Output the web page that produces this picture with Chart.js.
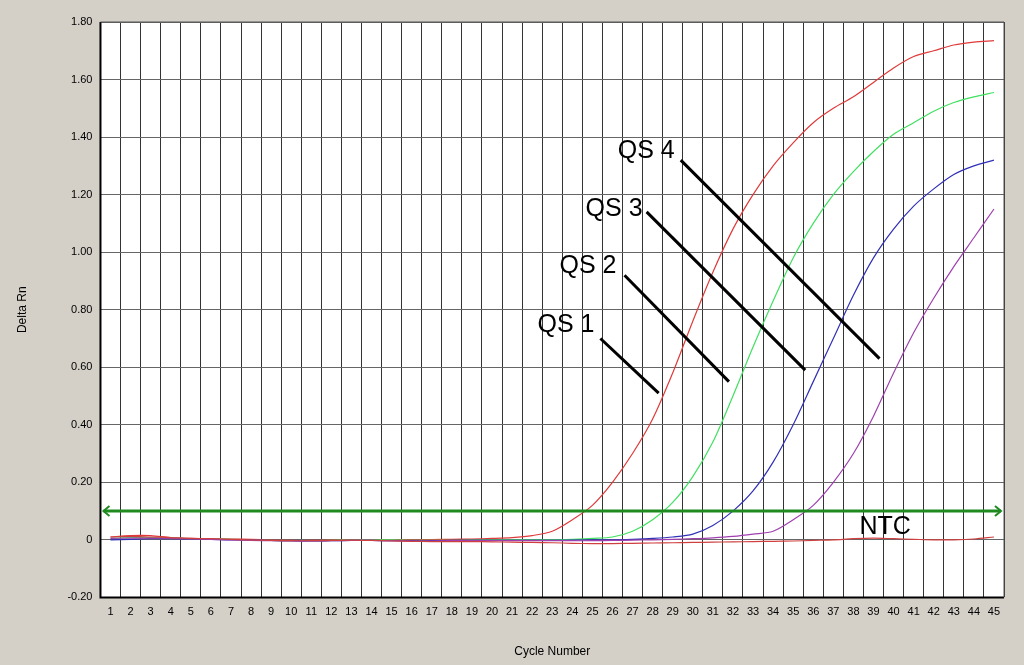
<!DOCTYPE html>
<html>
<head>
<meta charset="utf-8">
<script src="https://cdn.jsdelivr.net/npm/chart.js@4"></script>
<style>
html,body{margin:0;padding:0;background:#d4d0c8;}
#wrap{width:1024px;height:665px;}
</style>
</head>
<body>
<div id="wrap"><canvas id="pcr"></canvas></div>
<script>
const cycles = Array.from({length: 45}, (_, i) => i + 1);

const qs4 = [0.01,0.015,0.015,0.008,0.005,0.004,0.003,0.002,0,-0.002,-0.002,-0.001,0,0,0,0,0.001,0.002,0.003,0.005,0.008,0.015,0.03,0.07,0.12,0.2,0.3,0.42,0.58,0.76,0.93,1.08,1.2,1.3,1.38,1.45,1.5,1.54,1.59,1.64,1.68,1.7,1.72,1.73,1.735];
const qs3 = [0.005,0.008,0.008,0.006,0.004,0.003,0.002,0,-0.002,-0.003,-0.003,-0.002,0,0,0,-0.002,-0.002,-0.002,-0.001,0,0,0,0,0.002,0.005,0.01,0.03,0.07,0.13,0.22,0.34,0.5,0.67,0.83,0.98,1.1,1.2,1.28,1.35,1.41,1.45,1.49,1.52,1.54,1.555];
const qs2 = [0,0.002,0.004,0.004,0.003,0.002,0,0,-0.002,-0.003,-0.004,-0.003,-0.002,-0.002,-0.003,-0.003,-0.003,-0.002,-0.002,-0.002,-0.002,-0.002,-0.002,-0.001,0,0,0.002,0.005,0.01,0.02,0.05,0.1,0.17,0.27,0.4,0.55,0.7,0.85,0.98,1.08,1.16,1.22,1.27,1.3,1.32];
const qs1 = [0.005,0.006,0.006,0.005,0.003,0.002,0,-0.002,-0.003,-0.004,-0.004,-0.003,-0.002,-0.002,-0.003,-0.004,-0.004,-0.003,-0.003,-0.003,-0.003,-0.003,-0.003,-0.003,-0.003,-0.002,-0.001,0,0.002,0.004,0.007,0.012,0.02,0.03,0.07,0.12,0.2,0.3,0.43,0.58,0.72,0.84,0.95,1.05,1.15];
const ntc = [0.01,0.012,0.01,0.008,0.005,0.004,0.002,0,-0.002,-0.003,-0.003,-0.002,-0.001,-0.002,-0.004,-0.005,-0.006,-0.006,-0.006,-0.007,-0.008,-0.009,-0.01,-0.012,-0.013,-0.013,-0.012,-0.011,-0.01,-0.009,-0.008,-0.007,-0.006,-0.005,-0.004,-0.002,0,0.004,0.006,0.004,0.002,0,0,0.003,0.01];
const threshold = 0.1;

// label text, text anchor (cycle, value), pointer start and end
const labels = [
  {text: 'QS 1', at: [25.1, 0.745], align: 'right', from: [25.4, 0.70], to: [28.3, 0.51]},
  {text: 'QS 2', at: [26.2, 0.95], align: 'right', from: [26.6, 0.92], to: [31.8, 0.55]},
  {text: 'QS 3', at: [27.5, 1.15], align: 'right', from: [27.7, 1.14], to: [35.6, 0.59]},
  {text: 'QS 4', at: [29.1, 1.35], align: 'right', from: [29.4, 1.32], to: [39.3, 0.63]},
  {text: 'NTC', at: [38.3, 0.045], align: 'left'}
];

const plotBg = {
  id: 'plotBg',
  beforeDraw(chart) {
    const a = chart.chartArea, c = chart.ctx;
    c.save(); c.fillStyle = '#fff'; c.fillRect(a.left, a.top, a.right - a.left, a.bottom - a.top); c.restore();
  },
  afterDatasetsDraw(chart) {
    const c = chart.ctx, x = chart.scales.x, y = chart.scales.y, a = chart.chartArea;
    c.save();
    // threshold line with arrows
    const ty = y.getPixelForValue(threshold);
    c.strokeStyle = '#1f8a1f'; c.lineWidth = 3;
    c.beginPath(); c.moveTo(a.left + 3, ty); c.lineTo(a.right - 3, ty); c.stroke();
    c.lineWidth = 2;
    c.beginPath(); c.moveTo(a.left + 9, ty - 5); c.lineTo(a.left + 3, ty); c.lineTo(a.left + 9, ty + 5); c.stroke();
    c.beginPath(); c.moveTo(a.right - 9, ty - 5); c.lineTo(a.right - 3, ty); c.lineTo(a.right - 9, ty + 5); c.stroke();
    // labels
    c.fillStyle = '#000'; c.strokeStyle = '#000'; c.lineWidth = 3;
    c.font = '25px "Liberation Sans", Arial, sans-serif';
    c.textBaseline = 'middle';
    labels.forEach(l => {
      c.textAlign = l.align;
      c.fillText(l.text, x.getPixelForValue(l.at[0]), y.getPixelForValue(l.at[1]));
      if (l.from) {
        c.beginPath();
        c.moveTo(x.getPixelForValue(l.from[0]), y.getPixelForValue(l.from[1]));
        c.lineTo(x.getPixelForValue(l.to[0]), y.getPixelForValue(l.to[1]));
        c.stroke();
      }
    });
    // border
    c.lineWidth = 2; c.strokeStyle = '#000';
    c.beginPath(); c.moveTo(a.left, a.top); c.lineTo(a.left, a.bottom); c.lineTo(a.right, a.bottom); c.stroke();
    c.lineWidth = 1; c.strokeStyle = '#555';
    c.beginPath(); c.moveTo(a.left, a.top); c.lineTo(a.right, a.top); c.lineTo(a.right, a.bottom); c.stroke();
    c.restore();
  }
};

function series(vals, color) {
  return {data: vals.map((v, i) => ({x: cycles[i], y: v})), borderColor: color, borderWidth: 1.2, pointRadius: 0, tension: 0.3, fill: false};
}

new Chart(document.getElementById('pcr'), {
  type: 'line',
  data: {
    datasets: [
      series(ntc, '#d04040'),
      series(qs1, '#a040b0'),
      series(qs2, '#3030b8'),
      series(qs3, '#40e060'),
      series(qs4, '#e03a3a')
    ]
  },
  options: {
    responsive: true,
    maintainAspectRatio: false,
    animation: false,
    layout: {padding: {top: 22, right: 20, left: 11, bottom: 0}},
    plugins: {legend: {display: false}, tooltip: {enabled: false}},
    scales: {
      x: {
        type: 'linear', min: 0.5, max: 45.5,
        afterBuildTicks(s) {
          const t = [];
          for (let v = 0.5; v <= 45.5; v += 0.5) t.push({value: v});
          s.ticks = t;
        },
        ticks: {
          autoSkip: false, maxRotation: 0, color: '#000', padding: 8,
          font: {size: 11, family: '"Liberation Sans", Arial, sans-serif'},
          callback: v => Number.isInteger(v) ? String(v) : ''
        },
        grid: {
          drawTicks: false,
          color: c => (c.tick && !Number.isInteger(c.tick.value)) ? '#333' : 'rgba(0,0,0,0)'
        },
        border: {display: false},
        title: {display: true, text: 'Cycle Number', color: '#000', padding: {top: 18, bottom: 6}, font: {size: 12, family: '"Liberation Sans", Arial, sans-serif'}}
      },
      y: {
        min: -0.2, max: 1.8,
        ticks: {
          stepSize: 0.2, color: '#000', padding: 8,
          font: {size: 11, family: '"Liberation Sans", Arial, sans-serif'},
          callback: v => Math.abs(v) < 1e-9 ? '0' : v.toFixed(2)
        },
        grid: {drawTicks: false, color: '#666'},
        border: {display: false},
        title: {display: true, text: 'Delta Rn', color: '#000', padding: {bottom: 30}, font: {size: 12, family: '"Liberation Sans", Arial, sans-serif'}}
      }
    }
  },
  plugins: [plotBg]
});
</script>
</body>
</html>
